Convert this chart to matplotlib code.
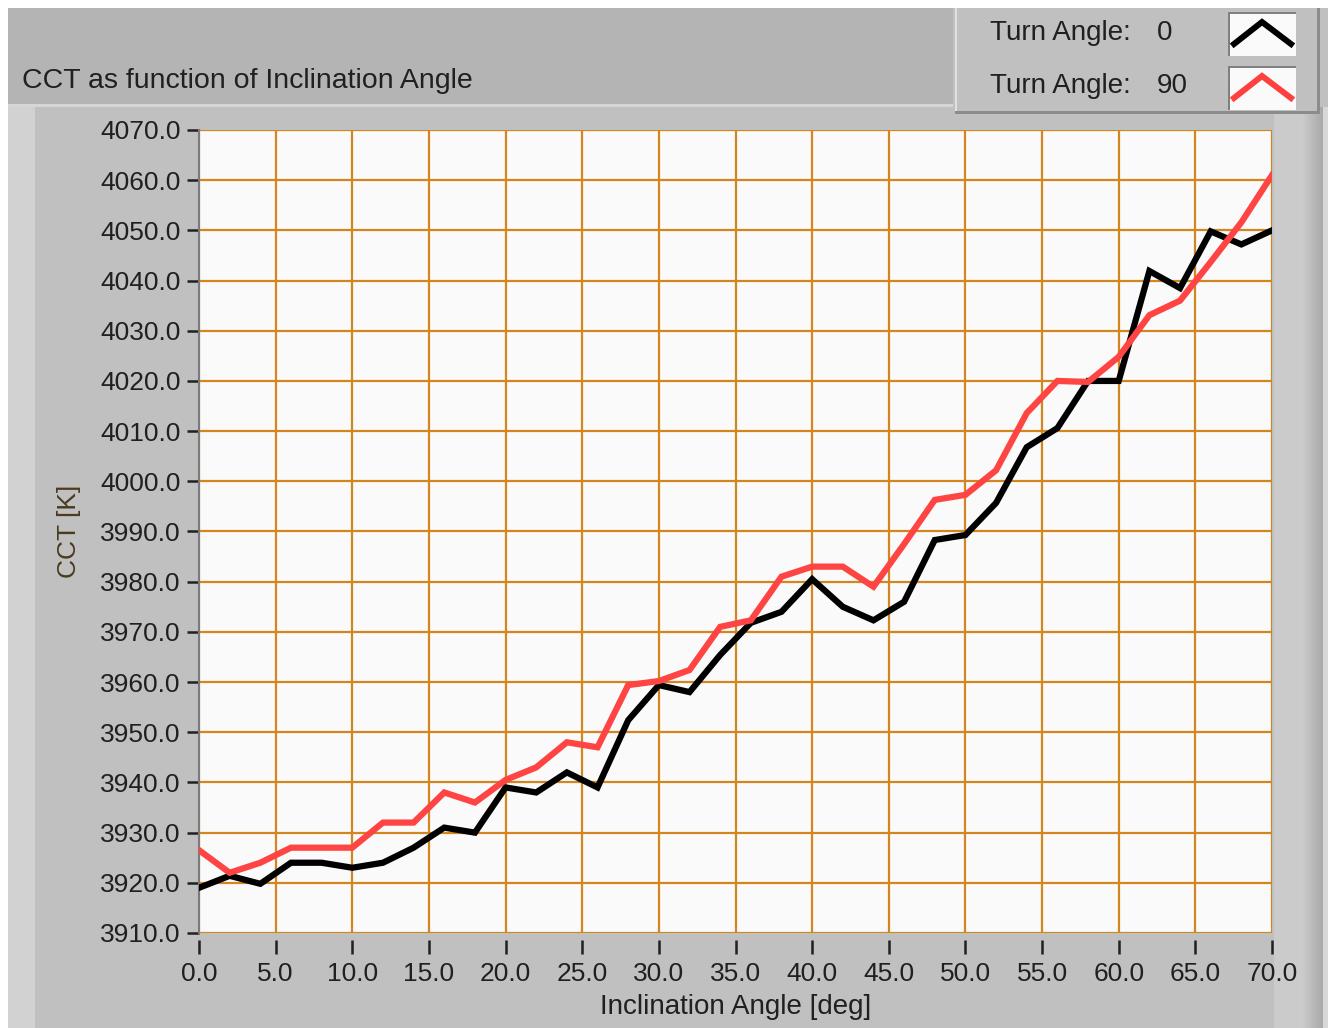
import matplotlib
matplotlib.use("Agg")
import matplotlib.pyplot as plt
from matplotlib.patches import Rectangle
from matplotlib.lines import Line2D
import numpy as np

# ---- data ----
inclination = [0, 2, 4, 6, 8, 10, 12, 14, 16, 18, 20, 22, 24, 26, 28, 30, 32, 34,
               36, 38, 40, 42, 44, 46, 48, 50, 52, 54, 56, 58, 60, 62, 64, 66, 68, 70]
cct_turn0 = [3919.0, 3921.4, 3919.8, 3924.0, 3924.0, 3923.0, 3924.0, 3927.0, 3931.0, 3930.0,
             3939.0, 3938.0, 3942.0, 3939.0, 3952.4, 3959.4, 3958.0, 3965.4, 3971.8, 3974.0,
             3980.5, 3975.0, 3972.3, 3976.0, 3988.3, 3989.3, 3995.7, 4006.8, 4010.6, 4020.0,
             4020.0, 4041.9, 4038.5, 4049.8, 4047.2, 4050.0]
cct_turn90 = [3926.5, 3922.0, 3924.0, 3927.0, 3927.0, 3927.0, 3932.0, 3932.0, 3938.0, 3936.0,
              3940.5, 3943.0, 3948.0, 3947.0, 3959.4, 3960.2, 3962.4, 3971.0, 3972.3, 3981.0,
              3983.0, 3983.0, 3979.0, 3987.5, 3996.3, 3997.3, 4002.2, 4013.6, 4020.0, 4019.8,
              4024.8, 4033.1, 4036.0, 4043.7, 4051.6, 4061.0]
x_ticks = [0, 5, 10, 15, 20, 25, 30, 35, 40, 45, 50, 55, 60, 65, 70]
y_ticks = [3910, 3920, 3930, 3940, 3950, 3960, 3970, 3980, 3990, 4000, 4010, 4020, 4030,
           4040, 4050, 4060, 4070]
series_labels = ["0", "90"]
title = "CCT as function of Inclination Angle"
xlabel = "Inclination Angle [deg]"
ylabel = "CCT [K]"

FONT = ['Liberation Sans Narrow', 'Liberation Sans', 'DejaVu Sans']
plt.rcParams['font.family'] = FONT

W, H = 1328, 1028
fig = plt.figure(figsize=(W / 100, H / 100), dpi=100, facecolor='white')


def fr(x, y, w, h):
    """pixel rect (top-left origin) -> figure fraction (left, bottom, w, h)"""
    return (x / W, 1 - (y + h) / H, w / W, h / H)


def rect(x, y, w, h, color, z=0):
    l, b, ww, hh = fr(x, y, w, h)
    fig.patches.append(Rectangle((l, b), ww, hh, transform=fig.transFigure,
                                 facecolor=color, edgecolor='none', zorder=z))


def fx(x):
    return x / W


def fy(y):
    return 1 - y / H


# background panels
rect(8, 8, W - 8, H - 8, '#c0c0c0', 0)
rect(8, 8, 945, 98, '#b4b4b4', 1)          # title banner
rect(8, 104, 945, 3, '#d6d6d6', 1)
rect(8, 107, 27, H - 107, '#d2d2d2', 1)    # left lighter strip
# right strip
rect(1274, 107, 30, H - 107, '#cbcbcb', 1)
for i in range(20):
    c = 0.79 - 0.13 * (i / 19)
    rect(1303 + i, 107, 1.2, H - 107, (c, c, c), 1)
rect(1323, 107, 5, H - 107, '#d8d8d8', 1)

# legend box
rect(955, 8, 365, 106, '#8c8c8c', 2)
rect(955, 8, 362, 103, '#c0c0c0', 3)
rect(955, 8, 2, 103, '#e0e0e0', 3)
for (yy, col) in [(12, 'black'), (66, '#ff4040')]:
    rect(1228, yy, 68, 44, '#808080', 4)
    rect(1230, yy + 2, 66, 42, '#fafafa', 5)
    fig.add_artist(Line2D([fx(1234), fx(1262), fx(1291)],
                          [fy(yy + 32), fy(yy + 10), fy(yy + 32)],
                          transform=fig.transFigure, color=col, lw=4.3,
                          solid_joinstyle='miter', zorder=6))

fig.text(fx(22), fy(81), title, ha='left', va='center', fontsize=20.5, color='#202020',
         family=FONT, zorder=10)
for i, (yc, lab) in enumerate([(33, series_labels[0]), (86, series_labels[1])]):
    fig.text(fx(990), fy(yc), "Turn Angle:", ha='left', va='center', fontsize=20,
             color='#202020', family=FONT, zorder=10)
    fig.text(fx(1157), fy(yc), lab, ha='left', va='center', fontsize=20,
             color='#202020', family=FONT, zorder=10)

# axes
ax = fig.add_axes(fr(199, 130, 1073, 803))
ax.set_zorder(5)
ax.set_facecolor('#fafafa')
ax.plot(inclination, cct_turn0, color='black', lw=4.5, zorder=3, solid_joinstyle='miter')
ax.plot(inclination, cct_turn90, color='#ff4444', lw=4.5, zorder=4, solid_joinstyle='miter')
ax.set_xlim(0, 70)
ax.set_ylim(3910, 4070)
ax.set_xticks(x_ticks)
ax.set_yticks(y_ticks)
ax.set_xticklabels([f"{v:.1f}" for v in x_ticks])
ax.set_yticklabels([f"{v:.1f}" for v in y_ticks])
ax.grid(True, color='#d4861e', lw=1.6)
ax.set_axisbelow(True)
for s in ['top', 'right']:
    ax.spines[s].set_visible(False)
ax.spines['bottom'].set_position(('outward', 5))
ax.spines['bottom'].set_visible(False)
ax.spines['left'].set_color('#7a7a7a')
ax.spines['left'].set_linewidth(1.5)
ax.tick_params(axis='x', direction='out', length=10, width=1.8, color='#202020',
               labelsize=19, labelcolor='#202020', pad=6)
ax.tick_params(axis='y', direction='out', length=9, width=1.8, color='#202020',
               labelsize=19, labelcolor='#202020', pad=4)
ax.set_xlabel(xlabel, fontsize=20, color='#202020', labelpad=6)
ax.set_ylabel(ylabel, fontsize=19, color='#4a3a20', labelpad=14)

fig.savefig('out.png', dpi=100, facecolor='white')
